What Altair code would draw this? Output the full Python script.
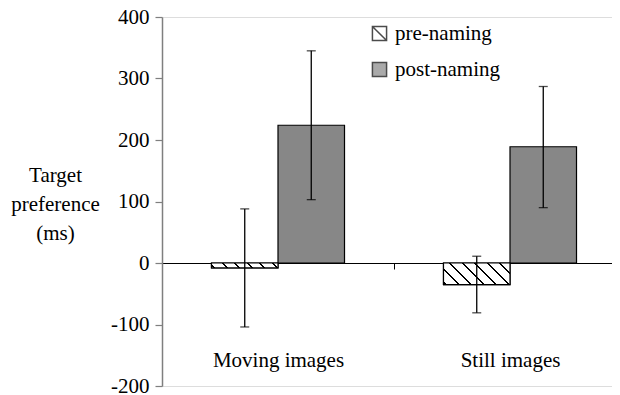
import altair as alt
import pandas as pd

groups = ["Moving images", "Still images"]
series = ["pre-naming", "post-naming"]
pre_mean = [-8, -35]
post_mean = [224, 189]
pre_lo = [-104, -81]
pre_hi = [88, 11]
post_lo = [103, 90]
post_hi = [345, 287]
y_ticks = [-200, -100, 0, 100, 200, 300, 400]

rows = []
for i, g in enumerate(groups):
    rows.append({"group": g, "series": series[0], "value": pre_mean[i], "lo": pre_lo[i], "hi": pre_hi[i]})
    rows.append({"group": g, "series": series[1], "value": post_mean[i], "lo": post_lo[i], "hi": post_hi[i]})
df = pd.DataFrame(rows)

FONT = "Liberation Serif"
PLOT_W = 450
PLOT_H = 369
RANGE_W = 464
BAR_PAD = 0.744
px_per_unit = PLOT_H / 600.0
bar_w = (RANGE_W / 2) / (2 + 2 * BAR_PAD)
zero_offset = -PLOT_H * 200 / 600.0


def hatch(H, W=bar_w, period=12.5, lw=2.0):
    r = H / W
    s = (1 + r) / (1 + r * r)
    span = W + H
    stops = [{"offset": 0, "color": "white"}]
    c = -H + 3
    while c < W + period:
        t0 = min(max((c - lw / 2 + H) / span, 0), 1)
        t1 = min(max((c + lw / 2 + H) / span, 0), 1)
        if t1 > t0:
            stops += [{"offset": t0, "color": "white"}, {"offset": t0, "color": "black"},
                      {"offset": t1, "color": "black"}, {"offset": t1, "color": "white"}]
        c += period
    stops.append({"offset": 1, "color": "white"})
    return {"gradient": "linear", "x1": 0, "y1": 1, "x2": s, "y2": 1 - r * s, "stops": stops}


grad_moving = hatch(abs(pre_mean[0]) * px_per_unit)
grad_still = hatch(abs(pre_mean[1]) * px_per_unit)

x_enc = alt.X("group:N", sort=groups,
              scale=alt.Scale(range=[0, RANGE_W], paddingInner=0, paddingOuter=0),
              axis=alt.Axis(title=None, orient="bottom", offset=zero_offset, domainColor="black",
                            domainWidth=1, tickBand="extent", tickColor="black", tickSize=6,
                            tickWidth=1, labelPadding=80, labelAngle=0, labelFont=FONT,
                            labelFontSize=21, labelColor="black"))
xo_enc = alt.XOffset("series:N", sort=series,
                     scale=alt.Scale(paddingInner=0, paddingOuter=BAR_PAD))
y_scale = alt.Scale(domain=[-200, 400], nice=False)

fill_enc = alt.Fill("series:N", sort=series,
                    scale=alt.Scale(domain=series, range=["white", "#878787"]),
                    legend=alt.Legend(title=None, orient="none", legendX=207, legendY=6,
                                      labelFont=FONT, labelFontSize=21, labelColor="black",
                                      symbolSize=200, symbolStrokeColor="black",
                                      symbolStrokeWidth=1.5, labelOffset=5, rowPadding=14,
                                      padding=0))

bars = alt.Chart(df).mark_bar(stroke="black", strokeWidth=1.2).encode(
    x=x_enc,
    xOffset=xo_enc,
    y=alt.Y("value:Q", scale=y_scale, stack=None,
            axis=alt.Axis(values=y_ticks, grid=False, domainColor="#7f7f7f", domainWidth=1.5,
                          tickColor="#7f7f7f", tickSize=7, tickWidth=1.2, labelPadding=6,
                          labelFont=FONT, labelFontSize=21, labelColor="black",
                          labelExpr="'' + datum.value",
                          title=["Target", "preference", "(ms)"], titleAngle=0,
                          titleAlign="center", titleBaseline="top", titleX=-107, titleY=147,
                          titleFont=FONT, titleFontSize=21, titleFontWeight="normal",
                          titleColor="black", titleLineHeight=29)),
    y2=alt.datum(0),
    fill=fill_enc,
)

hatch_layer = alt.Chart(df).transform_filter(
    alt.datum.series == series[0]
).mark_bar(stroke="black", strokeWidth=1.2).encode(
    x=alt.X("group:N", sort=groups),
    xOffset=alt.XOffset("series:N", sort=series),
    y=alt.Y("value:Q", stack=None),
    y2=alt.datum(0),
    fill=alt.condition("datum.group == 'Moving images'", alt.value(grad_moving), alt.value(grad_still)),
)

legend_helper = alt.Chart(df).mark_point(filled=True, stroke="black").encode(
    x=alt.X("group:N", sort=groups),
    xOffset=alt.XOffset("series:N", sort=series),
    y=alt.Y("value:Q"),
    fill=alt.Fill("series:N", sort=series),
    shape=alt.Shape("series:N", sort=series,
                    scale=alt.Scale(domain=series, range=["M-1,-1H1V1H-1ZM-1,-1L1,1", "square"])),
    size=alt.value(0),
)

err_rule = alt.Chart(df).mark_rule(color="black", strokeWidth=1.3).encode(
    x=alt.X("group:N", sort=groups),
    xOffset=alt.XOffset("series:N", sort=series),
    y=alt.Y("lo:Q"),
    y2="hi:Q",
)
cap_lo = alt.Chart(df).mark_tick(color="black", thickness=1.3, size=9, orient="horizontal").encode(
    x=alt.X("group:N", sort=groups),
    xOffset=alt.XOffset("series:N", sort=series),
    y=alt.Y("lo:Q"),
)
cap_hi = alt.Chart(df).mark_tick(color="black", thickness=1.3, size=9, orient="horizontal").encode(
    x=alt.X("group:N", sort=groups),
    xOffset=alt.XOffset("series:N", sort=series),
    y=alt.Y("hi:Q"),
)

chart = alt.layer(bars, hatch_layer, legend_helper, err_rule, cap_lo, cap_hi).properties(
    width=PLOT_W, height=PLOT_H,
    autosize=alt.AutoSizeParams(type="none"),
    padding={"left": 154, "top": 9, "right": 0, "bottom": 9},
).configure_view(stroke=None).configure(background="white")

chart.save("out.html", embed_options={"renderer": "svg", "actions": False})
